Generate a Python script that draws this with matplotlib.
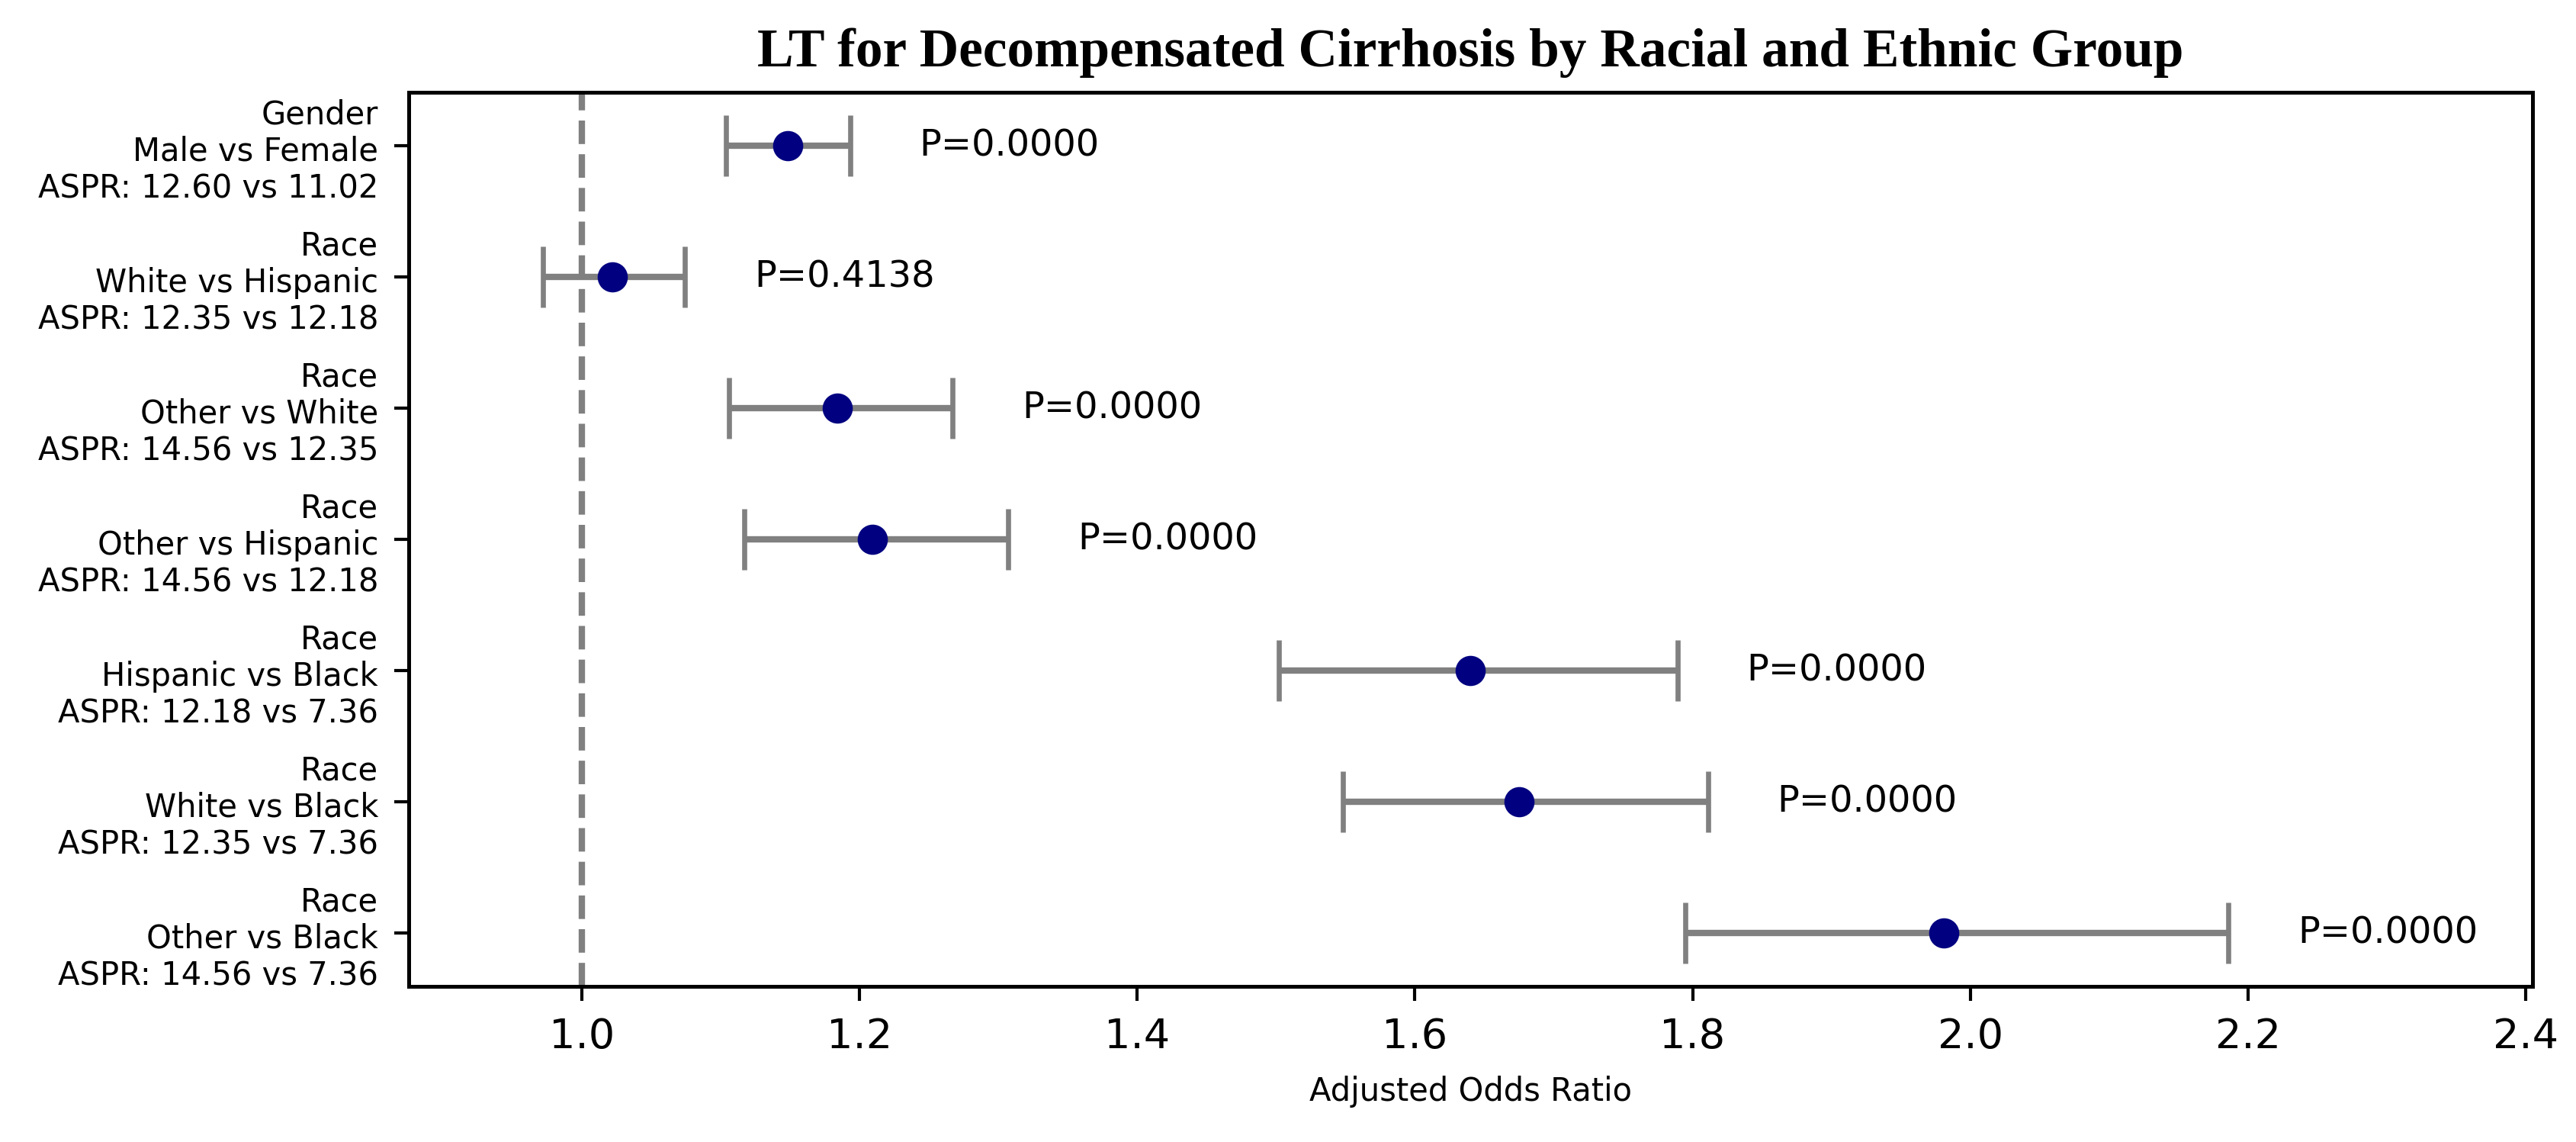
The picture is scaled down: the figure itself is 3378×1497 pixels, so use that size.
import matplotlib
matplotlib.use("Agg")
import matplotlib.pyplot as plt
import numpy as np

# ---- data ----
labels = [
    "Gender\nMale vs Female\nASPR: 12.60 vs 11.02",
    "Race\nWhite vs Hispanic\nASPR: 12.35 vs 12.18",
    "Race\nOther vs White\nASPR: 14.56 vs 12.35",
    "Race\nOther vs Hispanic\nASPR: 14.56 vs 12.18",
    "Race\nHispanic vs Black\nASPR: 12.18 vs 7.36",
    "Race\nWhite vs Black\nASPR: 12.35 vs 7.36",
    "Race\nOther vs Black\nASPR: 14.56 vs 7.36",
]
odds_ratio = [1.148, 1.022, 1.184, 1.209, 1.640, 1.675, 1.981]
ci_lower = [1.104, 0.972, 1.106, 1.117, 1.502, 1.548, 1.795]
ci_upper = [1.193, 1.074, 1.267, 1.307, 1.789, 1.811, 2.186]
p_values = ["0.0000", "0.4138", "0.0000", "0.0000", "0.0000", "0.0000", "0.0000"]
xticks = [1.0, 1.2, 1.4, 1.6, 1.8, 2.0, 2.2, 2.4]

W, H, DPI = 3378, 1497, 300
fig = plt.figure(figsize=(W / DPI, H / DPI), dpi=DPI)
ax = fig.add_axes([535.6 / W, 1 - 1293.3 / H, (3321 - 535.6) / W, (1293.3 - 120.7) / H])

y = np.arange(len(labels))
or_arr = np.array(odds_ratio)
xerr = np.vstack([or_arr - np.array(ci_lower), np.array(ci_upper) - or_arr])

ax.axvline(1.0, color="#808080", linestyle="--", linewidth=2, zorder=1)
ax.errorbar(or_arr, y, xerr=xerr, fmt="o", color="#000080", markersize=8.5,
            ecolor="#808080", elinewidth=2.0, capsize=9.5, capthick=1.6, zorder=3)

for yi, up, p in zip(y, ci_upper, p_values):
    ax.text(up + 0.05, yi, f"P={p}", va="center", ha="left", fontsize=11.5)

ax.set_yticks(y)
ax.set_yticklabels(labels, fontsize=10)
ax.set_xticks(xticks)
ax.set_xticklabels([f"{t:.1f}" for t in xticks], fontsize=13)
ax.set_xlim(0.875, 2.405)
ax.set_ylim(6.41, -0.41)
ax.tick_params(axis="both", length=4.5, width=1.0, pad=5)
for s in ax.spines.values():
    s.set_linewidth(1.2)

ax.set_xlabel("Adjusted Odds Ratio", fontsize=10, labelpad=6)
ax.set_title("LT for Decompensated Cirrhosis by Racial and Ethnic Group",
             fontsize=17.1, fontweight="bold", family="Liberation Serif", pad=8)

fig.savefig("out.png", dpi=DPI)
